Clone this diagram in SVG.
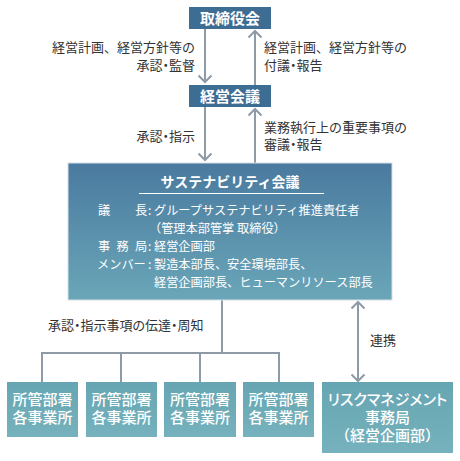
<svg xmlns="http://www.w3.org/2000/svg" width="460" height="461" viewBox="0 0 460 461">
<defs>
<linearGradient id="gSus" x1="0" y1="0" x2="0" y2="1">
<stop offset="0" stop-color="#4a7a9f"/>
<stop offset="1" stop-color="#6aa6b8"/>
</linearGradient>
<linearGradient id="gTeal" x1="0" y1="0" x2="0" y2="1">
<stop offset="0" stop-color="#66a5b2"/>
<stop offset="1" stop-color="#75b2bd"/>
</linearGradient>
<marker id="arr" markerUnits="userSpaceOnUse" markerWidth="16" markerHeight="16" viewBox="-8 -8 16 16" refX="0" refY="0" orient="auto-start-reverse">
<path d="M-6.5,-6.5 L0,0 L-6.5,6.5" fill="none" stroke="#8e9aa5" stroke-width="2"/>
</marker>
<style>
text{font-family:"Noto Sans CJK JP","Noto Sans",sans-serif;}
.lbl{font-size:13px;fill:#333;}
.hd{font-size:15px;font-weight:bold;fill:#fff;text-anchor:middle;}
.bx{font-size:15px;font-weight:500;fill:#fff;text-anchor:middle;}
.bd{font-size:12.2px;fill:#fff;}
.ln{fill:none;stroke:#8e9aa5;stroke-width:2;}
.dark{fill:#3e6d94;}
.palt{font-feature-settings:"palt";}
</style>
</defs>

<g id="connectors">
<line class="ln" x1="205" y1="29" x2="205" y2="82" marker-end="url(#arr)"/>
<line class="ln" x1="255" y1="85" x2="255" y2="31" marker-end="url(#arr)"/>
<line class="ln" x1="205" y1="107" x2="205" y2="160" marker-end="url(#arr)"/>
<line class="ln" x1="255" y1="163" x2="255" y2="109" marker-end="url(#arr)"/>
<path class="ln" d="M222,300 V353 M42,382 V353 H279 V382 M121,353 V382 M200,353 V382"/>
<line class="ln" x1="358" y1="302" x2="358" y2="381" marker-start="url(#arr)" marker-end="url(#arr)"/>
<text class="lbl" x="195" y="52" text-anchor="end">経営計画、経営方針等の</text>
<text class="lbl palt" x="195" y="70" text-anchor="end">承認・監督</text>
<text class="lbl" x="264" y="52">経営計画、経営方針等の</text>
<text class="lbl palt" x="264" y="70">付議・報告</text>
<text class="lbl palt" x="195" y="141" text-anchor="end">承認・指示</text>
<text class="lbl" x="264" y="132">業務執行上の重要事項の</text>
<text class="lbl palt" x="264" y="149">審議・報告</text>
<text class="lbl palt" x="48" y="330">承認・指示事項の伝達・周知</text>
<text class="lbl" x="370" y="345">連携</text>
</g>

<g id="board">
<rect class="dark" x="189" y="7" width="82" height="22"/>
<text class="hd" x="230" y="23.5">取締役会</text>
</g>

<g id="mgmt">
<rect class="dark" x="189" y="85" width="82" height="22"/>
<text class="hd" x="230" y="101.5">経営会議</text>
</g>

<g id="sustainability">
<rect x="68" y="163" width="324" height="137" fill="url(#gSus)" stroke="#d3e0e7" stroke-width="1"/>
<text class="hd" x="230" y="187" style="font-size:14px">サステナビリティ会議</text>
<line x1="139" y1="193.5" x2="324" y2="193.5" stroke="#fff" stroke-width="1"/>
<text class="bd" x="98 135 148" y="214.5">議長:</text>
<text class="bd" x="154" y="214.5">グループサステナビリティ推進責任者</text>
<text class="bd" x="149" y="232.5">（管理本部管掌 取締役）</text>
<text class="bd" x="98 116.5 135 148" y="250.5">事務局:</text>
<text class="bd" x="154" y="250.5">経営企画部</text>
<text class="bd" x="97 109.2 121.4 133.6 148" y="268.5">メンバー:</text>
<text class="bd" x="154" y="268.5">製造本部長、安全環境部長、</text>
<text class="bd" x="154" y="286.5">経営企画部長、ヒューマンリソース部長</text>
</g>

<g id="dept1">
<rect x="7" y="382" width="71" height="55" fill="url(#gTeal)"/>
<text class="bx" x="42.5" y="405">所管部署</text>
<text class="bx" x="42.5" y="423">各事業所</text>
</g>
<g id="dept2">
<rect x="86" y="382" width="71" height="55" fill="url(#gTeal)"/>
<text class="bx" x="121.5" y="405">所管部署</text>
<text class="bx" x="121.5" y="423">各事業所</text>
</g>
<g id="dept3">
<rect x="164" y="382" width="72" height="55" fill="url(#gTeal)"/>
<text class="bx" x="200" y="405">所管部署</text>
<text class="bx" x="200" y="423">各事業所</text>
</g>
<g id="dept4">
<rect x="243" y="382" width="71" height="55" fill="url(#gTeal)"/>
<text class="bx" x="278.5" y="405">所管部署</text>
<text class="bx" x="278.5" y="423">各事業所</text>
</g>
<g id="risk">
<rect x="322" y="382" width="131" height="71" fill="url(#gTeal)"/>
<text class="bx palt" x="387.5" y="405">リスクマネジメント</text>
<text class="bx" x="387.5" y="423">事務局</text>
<text class="bx" x="387.5" y="441">（経営企画部）</text>
</g>
</svg>
